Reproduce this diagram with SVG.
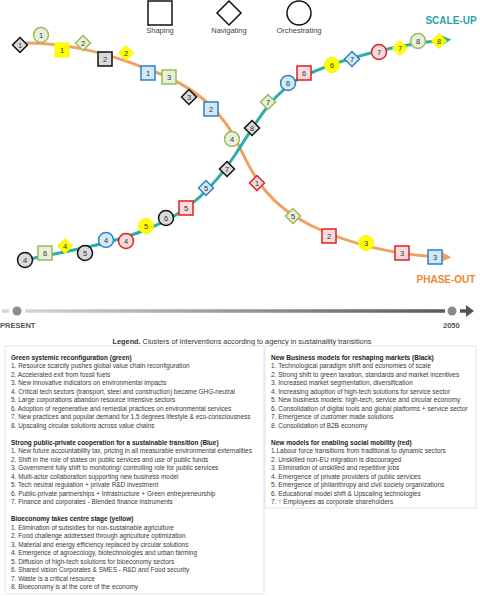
<svg xmlns="http://www.w3.org/2000/svg" width="480" height="596" viewBox="0 0 480 596">
<defs>
<style>
text{font-family:"Liberation Sans",Arial,sans-serif;fill:#333}
.n{font-size:7.5px;text-anchor:middle}
.g{fill:#e8efdc;stroke:#9bbb59;stroke-width:1.5}
.b{fill:#d2e9f8;stroke:#2e80c6;stroke-width:1.5}
.y{fill:#ffff00;stroke:#f5f500;stroke-width:1}
.k{fill:#d9d9d9;stroke:#111;stroke-width:1.5}
.r{fill:#f6dcdc;stroke:#e02020;stroke-width:1.5}
.lg{fill:#fff;stroke:#111;stroke-width:1.5}
.lt{font-size:7.5px;text-anchor:middle;fill:#444}
.bx{fill:#fff;stroke:#e3e3e3;stroke-width:1}
.tx{font-size:7.1px;fill:#3a3a3a}
.hd{font-weight:bold;fill:#222}
</style>
<marker id="aO" viewBox="0 0 10 10" refX="4" refY="5" markerWidth="3.6" markerHeight="3.6" orient="auto"><path d="M0,0 L10,5 L0,10 L3,5 z" fill="#f0a060"/></marker>
<marker id="aT" viewBox="0 0 10 10" refX="4" refY="5" markerWidth="3.6" markerHeight="3.6" orient="auto"><path d="M0,0 L10,5 L0,10 L3,5 z" fill="#2fada8"/></marker>
<linearGradient id="tl" gradientUnits="userSpaceOnUse" x1="25" y1="311" x2="445" y2="311"><stop offset="0" stop-color="#d6d6d6"/><stop offset="1" stop-color="#5a5a5a"/></linearGradient>
</defs>

<g id="key">
<rect class="lg" x="148" y="1" width="24" height="24"/>
<text class="lt" x="160" y="33">Shaping</text>
<polygon class="lg" points="229,1 241,13 229,25 217,13"/>
<text class="lt" x="229" y="33">Navigating</text>
<circle class="lg" cx="299" cy="13" r="12"/>
<text class="lt" x="299" y="33">Orchestrating</text>
</g>

<g id="connectors" fill="none">
<path d="M20,43 C60,42 100,50 150,70 C200,88 225,115 240,148 C255,180 270,205 310,225 C350,245 400,256 445,257" stroke="#f0a060" stroke-width="3" marker-end="url(#aO)"/>
<path d="M25,260 C70,250 110,245 150,228 C190,212 215,185 235,155 C255,125 270,95 300,78 C340,58 400,44 445,40" stroke="#2fada8" stroke-width="3" marker-end="url(#aT)"/>
</g>

<text x="451" y="24" style="font-size:10px;font-weight:bold;fill:#2e9fa8;text-anchor:middle">SCALE-UP</text>
<text x="446" y="283" style="font-size:10px;font-weight:bold;fill:#ee8a30;text-anchor:middle">PHASE-OUT</text>

<!-- phase-out nodes -->
<g id="o-k1"><polygon class="k" points="20,37.5 27.5,45 20,52.5 12.5,45"/><text class="n" x="20" y="47.7">1</text></g>
<g id="o-g1"><circle class="g" cx="41" cy="35" r="7.5"/><text class="n" x="41" y="37.7">1</text></g>
<g id="o-y1"><rect class="y" x="55" y="43" width="14" height="14"/><text class="n" x="62" y="52.7">1</text></g>
<g id="o-g2"><polygon class="g" points="83,35.5 90.5,43 83,50.5 75.5,43"/><text class="n" x="83" y="45.7">2</text></g>
<g id="o-k2"><rect class="k" x="98" y="52" width="14" height="14"/><text class="n" x="105" y="61.7">2</text></g>
<g id="o-y2"><polygon class="y" points="126,45.5 133.5,53 126,60.5 118.5,53"/><text class="n" x="126" y="55.7">2</text></g>
<g id="o-b1"><rect class="b" x="141" y="66" width="14" height="14"/><text class="n" x="148" y="75.7">1</text></g>
<g id="o-g3"><rect class="g" x="162" y="70" width="14" height="14"/><text class="n" x="169" y="79.7">3</text></g>
<g id="o-k3"><polygon class="k" points="189,89.5 196.5,97 189,104.5 181.5,97"/><text class="n" x="189" y="99.7">3</text></g>
<g id="o-b2"><rect class="b" x="204" y="102" width="14" height="14"/><text class="n" x="211" y="111.7">2</text></g>
<g id="o-g4"><circle class="g" cx="232" cy="139" r="7.5"/><text class="n" x="232" y="141.7">4</text></g>
<g id="o-r1"><polygon class="r" points="257,175.5 264.5,183 257,190.5 249.5,183"/><text class="n" x="257" y="185.7">1</text></g>
<g id="o-g5"><polygon class="g" points="293,208.5 300.5,216 293,223.5 285.5,216"/><text class="n" x="293" y="218.7">5</text></g>
<g id="o-r2"><rect class="r" x="322" y="229" width="14" height="14"/><text class="n" x="329" y="238.7">2</text></g>
<g id="o-y3"><circle class="y" cx="366" cy="243" r="7.5"/><text class="n" x="366" y="245.7">3</text></g>
<g id="o-r3"><rect class="r" x="395" y="246" width="14" height="14"/><text class="n" x="402" y="255.7">3</text></g>
<g id="o-b3"><rect class="b" x="428" y="250" width="14" height="14"/><text class="n" x="435" y="259.7">3</text></g>

<!-- scale-up nodes -->
<g id="t-k4"><circle class="k" cx="25" cy="260" r="7.5"/><text class="n" x="25" y="262.7">4</text></g>
<g id="t-g6"><rect class="g" x="38" y="246" width="14" height="14"/><text class="n" x="45" y="255.7">6</text></g>
<g id="t-y4"><polygon class="y" points="65,238.5 72.5,246 65,253.5 57.5,246"/><text class="n" x="65" y="248.7">4</text></g>
<g id="t-k5"><circle class="k" cx="85" cy="253" r="7.5"/><text class="n" x="85" y="255.7">5</text></g>
<g id="t-b4"><circle class="b" cx="106" cy="240" r="7.5"/><text class="n" x="106" y="242.7">4</text></g>
<g id="t-r4"><circle class="r" cx="126" cy="241" r="7.5"/><text class="n" x="126" y="243.7">4</text></g>
<g id="t-y5"><circle class="y" cx="146" cy="226" r="7.5"/><text class="n" x="146" y="228.7">5</text></g>
<g id="t-k6"><circle class="k" cx="166" cy="218" r="7.5"/><text class="n" x="166" y="220.7">6</text></g>
<g id="t-r5"><rect class="r" x="179" y="201" width="14" height="14"/><text class="n" x="186" y="210.7">5</text></g>
<g id="t-b5"><polygon class="b" points="206,180.5 213.5,188 206,195.5 198.5,188"/><text class="n" x="206" y="190.7">5</text></g>
<g id="t-k7"><polygon class="k" points="227,161.5 234.5,169 227,176.5 219.5,169"/><text class="n" x="227" y="171.7">7</text></g>
<g id="t-k8"><polygon class="k" points="252,120.5 259.5,128 252,135.5 244.5,128"/><text class="n" x="252" y="130.7">8</text></g>
<g id="t-g7"><polygon class="g" points="268,94.5 275.5,102 268,109.5 260.5,102"/><text class="n" x="268" y="104.7">7</text></g>
<g id="t-b6"><circle class="b" cx="288" cy="83" r="7.5"/><text class="n" x="288" y="85.7">6</text></g>
<g id="t-r6"><rect class="r" x="297" y="66" width="14" height="14"/><text class="n" x="304" y="75.7">6</text></g>
<g id="t-y6"><circle class="y" cx="332" cy="65" r="7.5"/><text class="n" x="332" y="67.7">6</text></g>
<g id="t-b7"><polygon class="b" points="352,51.5 359.5,59 352,66.5 344.5,59"/><text class="n" x="352" y="61.7">7</text></g>
<g id="t-r7"><circle class="r" cx="379" cy="52" r="7.5"/><text class="n" x="379" y="54.7">7</text></g>
<g id="t-y7"><polygon class="y" points="400,40.5 407.5,48 400,55.5 392.5,48"/><text class="n" x="400" y="50.7">7</text></g>
<g id="t-g8"><circle class="g" cx="418" cy="41" r="7.5"/><text class="n" x="418" y="43.7">8</text></g>
<g id="t-y8"><polygon class="y" points="439,33.5 446.5,41 439,48.5 431.5,41"/><text class="n" x="439" y="43.7">8</text></g>

<g id="timeline">
<line x1="2" y1="311" x2="9" y2="311" stroke="#d4d4d4" stroke-width="3.5"/>
<circle cx="17" cy="311" r="4.5" fill="#8c8c8c"/>
<line x1="25" y1="311" x2="445" y2="311" stroke="url(#tl)" stroke-width="3.5"/>
<circle cx="452" cy="311" r="4.5" fill="#8c8c8c"/>
<path d="M460,311 L468,311" stroke="#555" stroke-width="3.5"/>
<path d="M466,305 L474,311 L466,317 z" fill="#555"/>
<text x="0" y="328" style="font-size:7.5px;font-weight:bold;fill:#555">PRESENT</text>
<text x="443" y="328" style="font-size:7.5px;font-weight:bold;fill:#555">2050</text>
</g>

<text x="242" y="344" style="font-size:7.3px;text-anchor:middle;fill:#333"><tspan font-weight="bold">Legend.</tspan>  Clusters of Interventions according to agency in sustainaility transitions</text>

<rect class="bx" x="5" y="346" width="259" height="248"/>
<rect class="bx" x="265" y="346" width="211" height="162"/>

<g id="legend-left" transform="translate(11 0) scale(0.91 1)">
<text x="0" y="360" class="tx hd">Green systemic reconfiguration (green)</text>
<text x="0" y="368.5" class="tx">1. Resource scarcity pushes global value chain reconfiguration</text>
<text x="0" y="377" class="tx">2. Accelerated exit from fossil fuels</text>
<text x="0" y="385.5" class="tx">3. New innovative indicators on environmental impacts</text>
<text x="0" y="394" class="tx">4. Critical tech sectors (transport, steel and construction) became GHG-neutral</text>
<text x="0" y="402.5" class="tx">5. Large corporations abandon resource intensive sectors</text>
<text x="0" y="411" class="tx">6. Adoption of regenerative and remedial practices on environmental services</text>
<text x="0" y="419.5" class="tx">7. New practices and popular demand for 1,5 degrees lifestyle &amp; eco-consciousness</text>
<text x="0" y="428" class="tx">8. Upscaling circular solutions across value chains</text>
<text x="0" y="445" class="tx hd">Strong public-private cooperation for a sustainable transition (Blue)</text>
<text x="0" y="453.5" class="tx">1. New future accountability tax, pricing in all measurable environmental externalities</text>
<text x="0" y="462" class="tx">2. Shift in the role of states on public services and use of public funds</text>
<text x="0" y="470.5" class="tx">3. Government fully shift to monitoring/ controlling role for public services</text>
<text x="0" y="479" class="tx">4. Multi-actor collaboration supporting new business model</text>
<text x="0" y="487.5" class="tx">5. Tech neutral regulation + private R&amp;D investment</text>
<text x="0" y="496" class="tx">6. Public-private partnerships  + Infrastructure + Green entrepreneurship</text>
<text x="0" y="504.5" class="tx">7. Finance and corporates - Blended finance instruments</text>
<text x="0" y="521.5" class="tx hd">Bioeconomy takes centre stage (yellow)</text>
<text x="0" y="530" class="tx">1. Elimination of subsidies for non-sustainable agriculture</text>
<text x="0" y="538.5" class="tx">2. Food challenge addressed through agriculture optimization</text>
<text x="0" y="547" class="tx">3. Material and energy efficiency replaced by circular solutions</text>
<text x="0" y="555.5" class="tx">4. Emergence of agroecology, biotechnologies and urban farming</text>
<text x="0" y="564" class="tx">5. Diffusion of high-tech solutions for bioeconomy sectors</text>
<text x="0" y="572.5" class="tx">6. Shared vision Corporates &amp; SMES - R&amp;D and Food security</text>
<text x="0" y="581" class="tx">7. Waste is a critical resource</text>
<text x="0" y="589.5" class="tx">8. Bioeconomy is at the core of the economy</text>
</g>

<g id="legend-right" transform="translate(271 0) scale(0.92 1)">
<text x="0" y="360" class="tx hd">New Business models for reshaping markets (Black)</text>
<text x="0" y="368.5" class="tx">1.  Technological paradigm shift and economies of scale</text>
<text x="0" y="377" class="tx">2. Strong shift to green taxation, standards and market incentives</text>
<text x="0" y="385.5" class="tx">3. Increased market segmentation, diversification</text>
<text x="0" y="394" class="tx">4. Increasing adoption of high-tech solutions for service sector</text>
<text x="0" y="402.5" class="tx">5. New business models: high-tech, service and circular economy</text>
<text x="0" y="411" class="tx">6. Consolidation of digital tools and global platforms + service sector</text>
<text x="0" y="419.5" class="tx">7. Emergence of customer made solutions</text>
<text x="0" y="428" class="tx">8. Consolidation of B2B economy</text>
<text x="0" y="445" class="tx hd">New models for enabling social mobility (red)</text>
<text x="0" y="453.5" class="tx">1.Labour force transitions from traditional to dynamic sectors</text>
<text x="0" y="462" class="tx">2. Unskilled non-EU migration is discouraged</text>
<text x="0" y="470.5" class="tx">3. Elimination of unskilled and repetitive jobs</text>
<text x="0" y="479" class="tx">4. Emergence of private providers of public services</text>
<text x="0" y="487.5" class="tx">5. Emergence of philanthropy and civil society organizations</text>
<text x="0" y="496" class="tx">6. Educational model shift &amp; Upscaling technologies</text>
<text x="0" y="504.5" class="tx">7. ↑ Employees as corporate shareholders</text>
</g>
</svg>
